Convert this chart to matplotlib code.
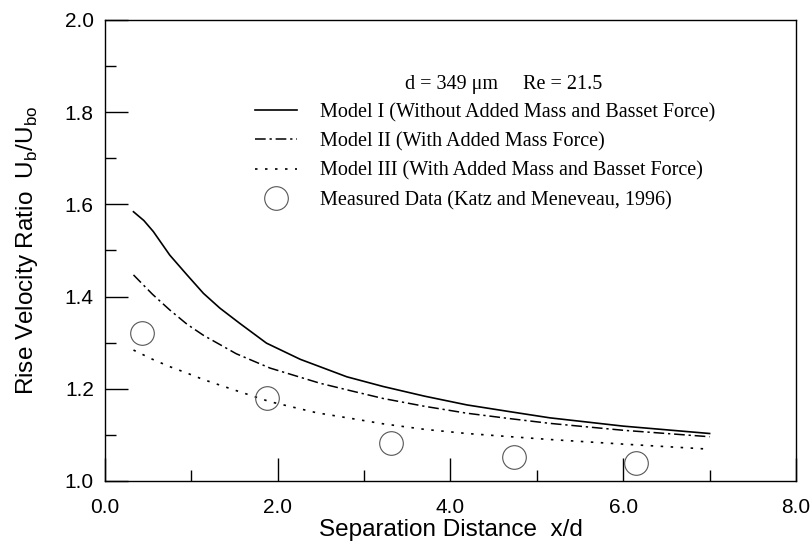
import matplotlib
matplotlib.use("Agg")
import matplotlib.pyplot as plt
from matplotlib.ticker import MultipleLocator, FormatStrFormatter
from matplotlib.lines import Line2D

plt.rcParams['font.family'] = ['Liberation Sans', 'DejaVu Sans']
plt.rcParams['mathtext.fontset'] = 'custom'
plt.rcParams['mathtext.rm'] = 'Liberation Sans'

# model curves
x_m1 = [0.33, 0.45, 0.56, 0.75, 0.95, 1.14, 1.33, 1.56, 1.87, 2.26, 2.80, 3.22, 3.70, 4.19, 4.70, 5.15, 6.00, 7.00]
y_m1 = [1.584, 1.565, 1.541, 1.490, 1.447, 1.407, 1.375, 1.342, 1.299, 1.264, 1.226, 1.205, 1.184, 1.165, 1.150, 1.137, 1.119, 1.103]

x_m2 = [0.33, 0.55, 0.75, 0.95, 1.14, 1.52, 1.91, 2.49, 2.84, 3.22, 3.70, 4.19, 4.70, 5.15, 6.00, 7.00]
y_m2 = [1.447, 1.405, 1.371, 1.340, 1.316, 1.276, 1.245, 1.212, 1.196, 1.179, 1.162, 1.147, 1.135, 1.125, 1.110, 1.096]

x_m3 = [0.33, 0.55, 0.75, 0.95, 1.14, 1.52, 1.91, 2.45, 2.84, 3.22, 3.70, 4.19, 4.70, 5.15, 6.00, 7.00]
y_m3 = [1.284, 1.264, 1.248, 1.234, 1.220, 1.196, 1.172, 1.148, 1.136, 1.124, 1.112, 1.103, 1.096, 1.090, 1.080, 1.069]

# measured data (Katz and Meneveau, 1996)
x_meas = [0.43, 1.88, 3.31, 4.74, 6.15]
y_meas = [1.320, 1.181, 1.082, 1.051, 1.040]

labels = ["Model I (Without Added Mass and Basset Force)",
          "Model II (With Added Mass Force)",
          "Model III (With Added Mass and Basset Force)",
          "Measured Data (Katz and Meneveau, 1996)"]

dashdot = (0, (7, 2.5, 1.5, 2.5))
dots = (0, (1.5, 4.5))

fig = plt.figure(figsize=(8.1, 5.43), dpi=100)
ax = fig.add_axes([0.1296, 0.1142, 0.8531, 0.849])

ax.plot(x_m1, y_m1, color='black', lw=1.2, ls='-')
ax.plot(x_m2, y_m2, color='black', lw=1.1, ls=dashdot)
ax.plot(x_m3, y_m3, color='black', lw=1.2, ls=dots)
ax.plot(x_meas, y_meas, ls='none', marker='o', ms=17, mfc='none', mec='#555555', mew=0.8)

ax.set_xlim(0, 8)
ax.set_ylim(1.0, 2.0)
ax.xaxis.set_major_locator(MultipleLocator(2))
ax.xaxis.set_minor_locator(MultipleLocator(1))
ax.yaxis.set_major_locator(MultipleLocator(0.2))
ax.yaxis.set_minor_locator(MultipleLocator(0.1))
ax.xaxis.set_major_formatter(FormatStrFormatter('%.1f'))
ax.yaxis.set_major_formatter(FormatStrFormatter('%.1f'))
ax.tick_params(which='both', direction='in', top=False, right=False, width=1.0, labelsize=15)
ax.tick_params(which='major', length=16.5)
ax.tick_params(which='minor', length=8)
ax.tick_params(axis='x', pad=12)
ax.tick_params(axis='y', pad=8)
for s in ax.spines.values():
    s.set_linewidth(1.0)

ax.set_xlabel("Separation Distance  x/d", fontsize=17.5, labelpad=1.5)
ax.set_ylabel(r"Rise Velocity Ratio  U$_\mathregular{b}$/U$_\mathregular{bo}$", fontsize=17.5, labelpad=18)

handles = [Line2D([], [], color='black', lw=1.2, ls='-'),
           Line2D([], [], color='black', lw=1.1, ls=dashdot),
           Line2D([], [], color='black', lw=1.2, ls=dots),
           Line2D([], [], ls='none', marker='o', ms=17, mfc='none', mec='#555555', mew=0.8)]
ax.legend(handles, labels, loc='upper left', bbox_to_anchor=(0.217, 0.820), frameon=False,
          prop={'family': 'Liberation Serif', 'size': 14.5}, handlelength=2.1,
          handletextpad=1.14, labelspacing=0.5, borderpad=0, borderaxespad=0)

ax.text(3.47, 1.860, "d = 349 \u03bcm     Re = 21.5", family='Liberation Serif', fontsize=14.5,
        ha='left', va='center')

fig.savefig("out.png", dpi=100)
